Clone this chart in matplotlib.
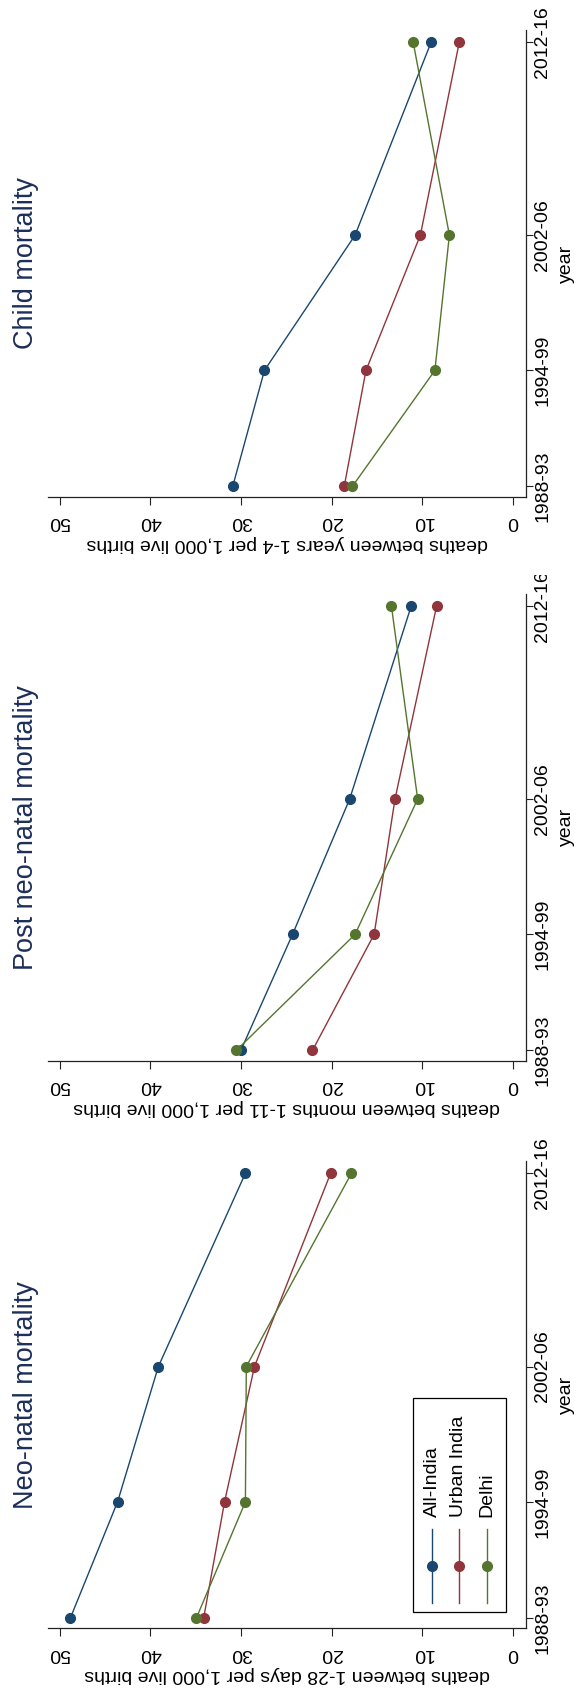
import matplotlib
matplotlib.use("Agg")
import matplotlib.pyplot as plt
from matplotlib.patches import Rectangle
from matplotlib.transforms import Bbox, TransformedBbox

plt.rcParams["font.family"] = ["Liberation Sans", "DejaVu Sans"]

# survey rounds (x positions follow the end year of each round)
year_pos = [1993, 1999, 2006, 2016]
year_labels = ["1988-93", "1994-99", "2002-06", "2012-16"]
groups = ["All-India", "Urban India", "Delhi"]
colors = ["#1a476f", "#90353b", "#55752f"]

# deaths per 1,000 live births
neo_all = [48.8, 43.6, 39.1, 29.5]
neo_urban = [34.1, 31.8, 28.5, 20.1]
neo_delhi = [34.9, 29.5, 29.4, 17.8]

post_all = [30.0, 24.3, 18.0, 11.2]
post_urban = [22.1, 15.3, 13.0, 8.4]
post_delhi = [30.5, 17.4, 10.5, 13.4]

child_all = [30.9, 27.4, 17.4, 9.0]
child_urban = [18.6, 16.2, 10.2, 5.9]
child_delhi = [17.7, 8.6, 7.0, 11.0]

title_color = "#1c2e5a"
FS = 14

fig = plt.figure(figsize=(5.77, 16.94), dpi=100)

# figure is drawn turned by 90 degrees: deaths run right->left, years bottom->top
panels = [
    ("Child mortality", "deaths between years 1-4 per 1,000 live births",
     [child_all, child_urban, child_delhi], 0.7066, None),
    ("Post neo-natal mortality", "deaths between months 1-11 per 1,000 live births",
     [post_all, post_urban, post_delhi], 0.3737, 0.6606),
    ("Neo-natal mortality", "deaths between 1-28 days per 1,000 live births",
     [neo_all, neo_urban, neo_delhi], 0.0387, 0.3270),
]

left, width, height = 0.0828, 0.8288, 0.2758

for title, xlab, series, bottom, clip_top in panels:
    ax = fig.add_axes([left, bottom, width, height])
    for vals, name, c in zip(series, groups, colors):
        ax.plot(vals, year_pos, color=c, lw=1.0, marker="o", ms=7, label=name)

    ax.set_xlim(51.3, -1.45)
    ax.set_ylim(1992.45, 2016.62)
    ax.set_xticks([0, 10, 20, 30, 40, 50])
    ax.set_yticks(year_pos)
    ax.set_yticklabels(year_labels)

    for s in ["top", "left"]:
        ax.spines[s].set_visible(False)
    for s in ["bottom", "right"]:
        ax.spines[s].set_color("#222222")
        ax.spines[s].set_linewidth(0.9)

    ax.yaxis.tick_right()
    ax.yaxis.set_label_position("right")
    ax.tick_params(axis="x", length=5.8, width=0.8, pad=6, labelsize=FS,
                   labelrotation=180, color="#222222")
    ax.tick_params(axis="y", length=5, width=0.8, pad=1, labelsize=FS,
                   labelrotation=90, color="#222222")
    for lab in ax.get_yticklabels():
        lab.set_va("center")

    ax.set_xlabel(xlab, fontsize=FS, rotation=180, labelpad=3)
    ax.set_ylabel("year", fontsize=FS, rotation=90, labelpad=4.5)

    if clip_top is not None:
        top_lab = ax.yaxis.get_major_ticks()[-1].label2
        top_lab.set_clip_box(TransformedBbox(Bbox([[0, 0], [1, clip_top]]), fig.transFigure))
        top_lab.set_clip_on(True)

    fig.text(26 / 577, bottom + height / 2, title, rotation=90, ha="center",
             va="center", fontsize=19.5, color=title_color)

# legend, drawn by hand so it can sit turned like the rest
ax.add_patch(Rectangle((0.7637, 0.0353), 0.1945, 0.4585, transform=ax.transAxes,
                       fill=False, ec="black", lw=0.9))
key_x = [0.8034, 0.8599, 0.9184]
for xk, name, c in zip(key_x, groups, colors):
    ax.plot([xk, xk], [0.0546, 0.2133], transform=ax.transAxes, color=c, lw=1.0)
    ax.plot([xk], [0.134], transform=ax.transAxes, color=c, marker="o", ms=7)
    ax.text(xk, 0.2389, name, rotation=90, ha="center", va="bottom",
            transform=ax.transAxes, fontsize=FS)

fig.savefig("out.png", dpi=100)
